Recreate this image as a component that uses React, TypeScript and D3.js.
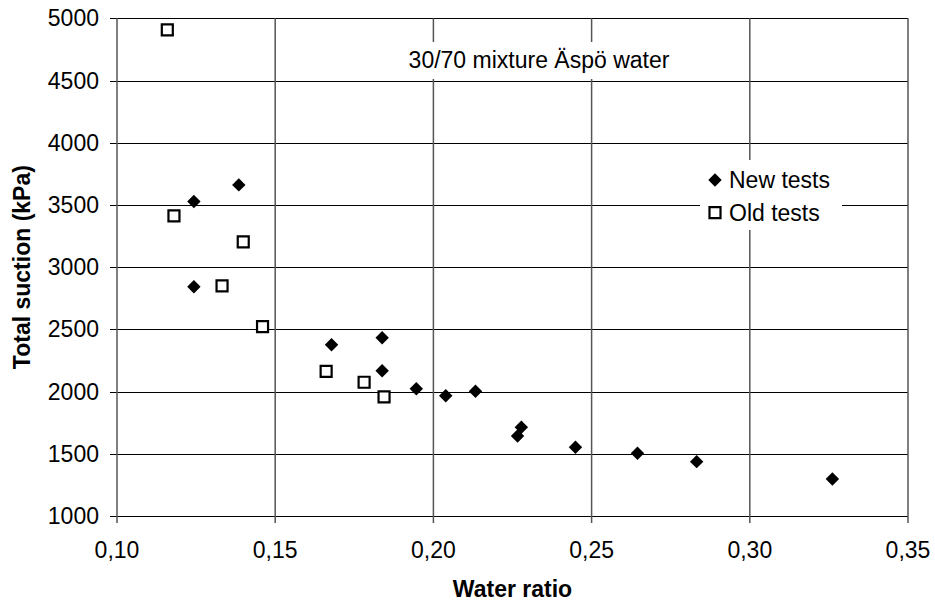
import { useEffect, useRef } from 'react'
import * as d3 from 'd3'

// New tests (filled diamonds)
const newRatio = [0.1243, 0.1385, 0.1243, 0.1678, 0.1838, 0.1838, 0.1946, 0.2039, 0.2133, 0.2278, 0.2266, 0.2449, 0.2645, 0.2832, 0.3261]
const newSuction = [3527, 3661, 2843, 2377, 2433, 2168, 2023, 1967, 2002, 1713, 1643, 1552, 1504, 1437, 1297]

// Old tests (open squares)
const oldRatio = [0.1159, 0.118, 0.1399, 0.1332, 0.146, 0.1661, 0.1781, 0.1844]
const oldSuction = [4907, 3412, 3203, 2849, 2522, 2163, 2075, 1957]

const xTicks = [0.1, 0.15, 0.2, 0.25, 0.3, 0.35]
const yTicks = [1000, 1500, 2000, 2500, 3000, 3500, 4000, 4500, 5000]

const FONT = '"Liberation Sans", Arial, sans-serif'

export default function App() {
  const svgRef = useRef<SVGSVGElement | null>(null)

  useEffect(() => {
    if (!svgRef.current) return
    const svg = d3.select(svgRef.current)
    svg.selectAll('*').remove()

    const width = 935
    const height = 606
    svg.attr('width', width).attr('height', height)

    const x = d3.scaleLinear().domain([0.1, 0.35]).range([117, 908])
    const y = d3.scaleLinear().domain([1000, 5000]).range([516, 18.3])

    const fmt = (v: number) => v.toFixed(2).replace('.', ',')

    // horizontal gridlines
    svg.append('g').selectAll('line').data(yTicks).enter().append('line')
      .attr('x1', 110).attr('x2', x(0.35))
      .attr('y1', (d) => Math.round(y(d)) + 0.5).attr('y2', (d) => Math.round(y(d)) + 0.5)
      .attr('stroke', '#000').attr('stroke-width', 1)

    // vertical gridlines
    svg.append('g').selectAll('line').data(xTicks).enter().append('line')
      .attr('x1', (d) => x(d)).attr('x2', (d) => x(d))
      .attr('y1', y(5000)).attr('y2', y(1000) + 7)
      .attr('stroke', '#555').attr('stroke-width', 1.5)

    // y tick labels
    svg.append('g').selectAll('text').data(yTicks).enter().append('text')
      .attr('x', 99).attr('y', (d) => y(d)).attr('dy', '0.35em')
      .attr('text-anchor', 'end')
      .style('font-family', FONT).style('font-size', '23px').style('fill', '#000')
      .text((d) => String(d))

    // x tick labels
    svg.append('g').selectAll('text').data(xTicks).enter().append('text')
      .attr('x', (d) => x(d)).attr('y', 558)
      .attr('text-anchor', 'middle')
      .style('font-family', FONT).style('font-size', '23px').style('fill', '#000')
      .text((d) => fmt(d))

    // axis titles
    svg.append('text')
      .attr('x', (x(0.1) + x(0.35)) / 2).attr('y', 597)
      .attr('text-anchor', 'middle')
      .style('font-family', FONT).style('font-size', '23px').style('font-weight', 'bold')
      .text('Water ratio')

    svg.append('text')
      .attr('transform', `translate(30,${(y(1000) + y(5000)) / 2}) rotate(-90)`)
      .attr('text-anchor', 'middle')
      .style('font-family', FONT).style('font-size', '23px').style('font-weight', 'bold')
      .text('Total suction (kPa)')

    // chart title with white box
    svg.append('rect')
      .attr('x', 398).attr('y', 42).attr('width', 282).attr('height', 37)
      .attr('fill', '#fff')
    svg.append('text')
      .attr('x', 539).attr('y', 68)
      .attr('text-anchor', 'middle')
      .style('font-family', FONT).style('font-size', '23px')
      .text('30/70 mixture Äspö water')

    const diamond = d3.symbol().type(d3.symbolSquare).size(90)
    const square = d3.symbol().type(d3.symbolSquare).size(121)

    // old tests
    svg.append('g').selectAll('path').data(oldRatio).enter().append('path')
      .attr('d', square)
      .attr('transform', (d, i) => `translate(${x(d)},${y(oldSuction[i])})`)
      .attr('fill', '#fff').attr('stroke', '#000').attr('stroke-width', 2.2)

    // new tests
    svg.append('g').selectAll('path').data(newRatio).enter().append('path')
      .attr('d', diamond)
      .attr('transform', (d, i) => `translate(${x(d)},${y(newSuction[i])}) rotate(45)`)
      .attr('fill', '#000')

    // legend
    const legend = svg.append('g')
    legend.append('rect')
      .attr('x', 700).attr('y', 160).attr('width', 142).attr('height', 70)
      .attr('fill', '#fff')
    legend.append('path').attr('d', diamond)
      .attr('transform', 'translate(715,180) rotate(45)').attr('fill', '#000')
    legend.append('path').attr('d', square)
      .attr('transform', 'translate(715,212.7)')
      .attr('fill', '#fff').attr('stroke', '#000').attr('stroke-width', 2.2)
    legend.append('text').attr('x', 729).attr('y', 188)
      .style('font-family', FONT).style('font-size', '23px')
      .text('New tests')
    legend.append('text').attr('x', 729).attr('y', 221)
      .style('font-family', FONT).style('font-size', '23px')
      .text('Old tests')
  }, [])

  return (
    <svg ref={svgRef} style={{ position: 'absolute', left: 0, top: 0, background: '#fff' }}></svg>
  )
}
